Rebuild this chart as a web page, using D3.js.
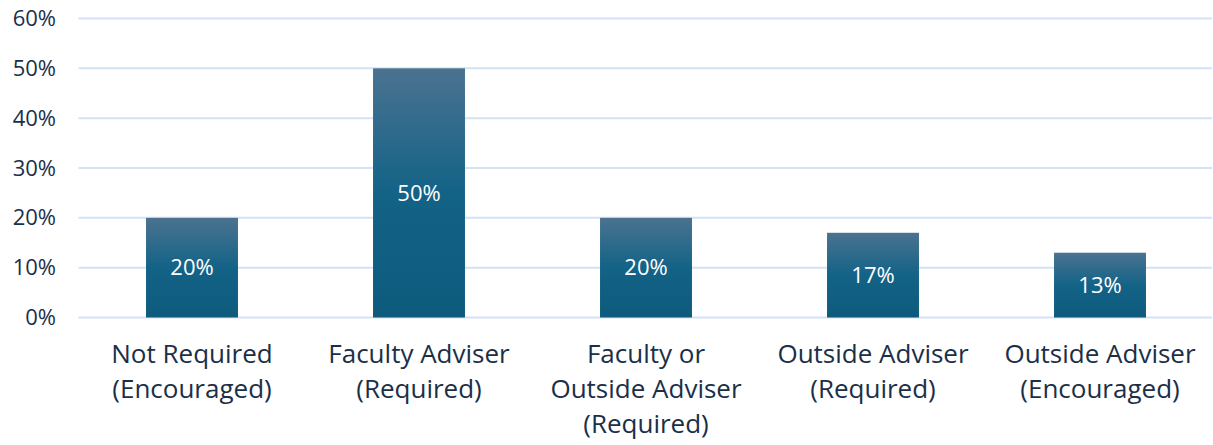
<!DOCTYPE html>
<html><head><meta charset="utf-8">
<script src="https://cdn.jsdelivr.net/npm/d3@7"></script>
<style>body{margin:0;background:#fff;}svg{display:block;}</style>
</head><body>
<svg id="chart" width="1213" height="445"></svg>
<script>
const categories = [
  ["Not Required", "(Encouraged)"],
  ["Faculty Adviser", "(Required)"],
  ["Faculty or", "Outside Adviser", "(Required)"],
  ["Outside Adviser", "(Required)"],
  ["Outside Adviser", "(Encouraged)"]
];
const values = [20, 50, 20, 17, 13];
const valueLabels = ["20%", "50%", "20%", "17%", "13%"];
const yTicks = [0, 10, 20, 30, 40, 50, 60];

(function () {
const svg = d3.select("#chart");
const font = "'Open Sans', 'Noto Sans', sans-serif";
const textColor = "#1b2f48";
const mLeft = 78.5, mRight = 1213.5, mTop = 18.5, mBottom = 317.5;

const x = d3.scaleBand().domain(d3.range(values.length)).range([mLeft, mRight]).paddingInner(0.595).paddingOuter(0.2975);
const y = d3.scaleLinear().domain([0, 60]).range([mBottom, mTop]);

const defs = svg.append("defs");
const grad = defs.append("linearGradient").attr("id", "barGrad").attr("x1", 0).attr("y1", 0).attr("x2", 0).attr("y2", 1);
grad.append("stop").attr("offset", "0%").attr("stop-color", "#4b7290");
grad.append("stop").attr("offset", "50%").attr("stop-color", "#136387");
grad.append("stop").attr("offset", "100%").attr("stop-color", "#0d5a7c");

svg.append("g").selectAll("line").data(yTicks).join("line")
  .attr("x1", mLeft).attr("x2", 1212)
  .attr("y1", d => y(d)).attr("y2", d => y(d))
  .attr("stroke", "#d3e2f4").attr("stroke-width", 2);

const yAxis = d3.axisLeft(y).tickValues(yTicks).tickFormat(d => d + "%").tickSize(0).tickPadding(0);
const ya = svg.append("g").attr("transform", "translate(56,0)").call(yAxis);
ya.select(".domain").remove();
ya.selectAll("text").attr("font-family", font).attr("font-size", 22).attr("fill", textColor);

svg.append("g").selectAll("rect").data(values).join("rect")
  .attr("x", (d, i) => x(i)).attr("width", x.bandwidth())
  .attr("y", d => y(d)).attr("height", d => y(0) - y(d))
  .attr("fill", "url(#barGrad)");

svg.append("g").selectAll("text").data(values).join("text")
  .attr("x", (d, i) => x(i) + x.bandwidth() / 2)
  .attr("y", d => (y(d) + y(0)) / 2)
  .attr("dy", "0.35em")
  .attr("text-anchor", "middle")
  .attr("font-family", font).attr("font-size", 22).attr("fill", "#ffffff")
  .text((d, i) => valueLabels[i]);

const cat = svg.append("g").selectAll("text").data(categories).join("text")
  .attr("text-anchor", "middle")
  .attr("font-family", font).attr("font-size", 26).attr("fill", textColor);
cat.each(function(lines, i) {
  const t = d3.select(this);
  lines.forEach((ln, j) => {
    t.append("tspan").attr("x", x(i) + x.bandwidth() / 2).attr("y", 354 + j * 35).attr("dy", "0.35em").text(ln);
  });
});
})();
</script>
</body></html>
